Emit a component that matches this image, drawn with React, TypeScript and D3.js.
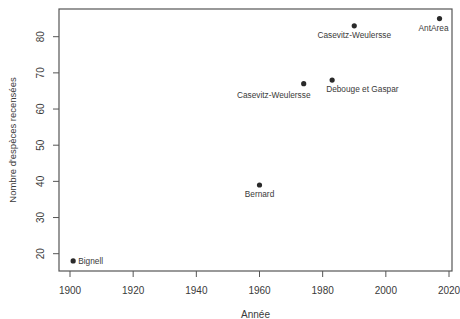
import React from "react";
import * as d3 from "d3";

// data
const authors = ["Bignell", "Bernard", "Casevitz-Weulersse", "Debouge et Gaspar", "Casevitz-Weulersse", "AntArea"];
const years = [1901, 1960, 1974, 1983, 1990, 2017];
const species = [18, 39, 67, 68, 83, 85];
const xTicks = [1900, 1920, 1940, 1960, 1980, 2000, 2020];
const yTicks = [20, 30, 40, 50, 60, 70, 80];

const width = 460;
const height = 319;
const box = { left: 59, right: 452, top: 9, bottom: 271 };

// label placement, a bit like R's pos / adj
const labelPlace = [
  { anchor: "start", dx: 5, dy: 3 },
  { anchor: "middle", dx: 0, dy: 12 },
  { anchor: "middle", dx: -30, dy: 14 },
  { anchor: "start", dx: -6, dy: 12 },
  { anchor: "middle", dx: 0, dy: 12 },
  { anchor: "middle", dx: -6, dy: 12 },
];

const ink = "#3a3a3a";
const font = "'Liberation Sans', Arial, sans-serif";

export default function App() {
  const x = d3.scaleLinear().domain([1900, 2020]).range([70, 449]);
  const y = d3.scaleLinear().domain([20, 80]).range([253.7, 36.7]);

  return (
    <div style={{ position: "absolute", left: 0, top: 0 }}>
      <svg width={width} height={height} style={{ display: "block", background: "#fff" }}>
        <rect
          x={box.left}
          y={box.top}
          width={box.right - box.left}
          height={box.bottom - box.top}
          fill="none"
          stroke="#555"
          strokeWidth={1.2}
        />

        {/* x axis */}
        {xTicks.map((t) => (
          <g key={"x" + t}>
            <line x1={x(t)} x2={x(t)} y1={box.bottom} y2={box.bottom + 6} stroke="#555" />
            <text
              x={x(t)}
              y={box.bottom + 23}
              textAnchor="middle"
              fontSize={10}
              fontFamily={font}
              fill={ink}
            >
              {t}
            </text>
          </g>
        ))}

        {/* y axis */}
        {yTicks.map((t) => (
          <g key={"y" + t}>
            <line x1={box.left - 6} x2={box.left} y1={y(t)} y2={y(t)} stroke="#555" />
            <text
              transform={`translate(${box.left - 15},${y(t)}) rotate(-90)`}
              textAnchor="middle"
              fontSize={10}
              fontFamily={font}
              fill={ink}
            >
              {t}
            </text>
          </g>
        ))}

        <text
          x={(box.left + box.right) / 2}
          y={317.5}
          textAnchor="middle"
          fontSize={10}
          fontFamily={font}
          fill={ink}
        >
          Année
        </text>
        <text
          transform={`translate(16,${(box.top + box.bottom) / 2}) rotate(-90)`}
          textAnchor="middle"
          fontSize={9.5}
          fontFamily={font}
          fill={ink}
        >
          Nombre d'espèces recensées
        </text>

        {/* points and labels */}
        {years.map((yr, i) => (
          <g key={i}>
            <circle cx={x(yr)} cy={y(species[i])} r={2.6} fill="#2a2a2a" />
            <text
              x={x(yr) + labelPlace[i].dx}
              y={y(species[i]) + labelPlace[i].dy}
              textAnchor={labelPlace[i].anchor}
              fontSize={8.3}
              fontFamily={font}
              fill={ink}
            >
              {authors[i]}
            </text>
          </g>
        ))}
      </svg>
    </div>
  );
}
